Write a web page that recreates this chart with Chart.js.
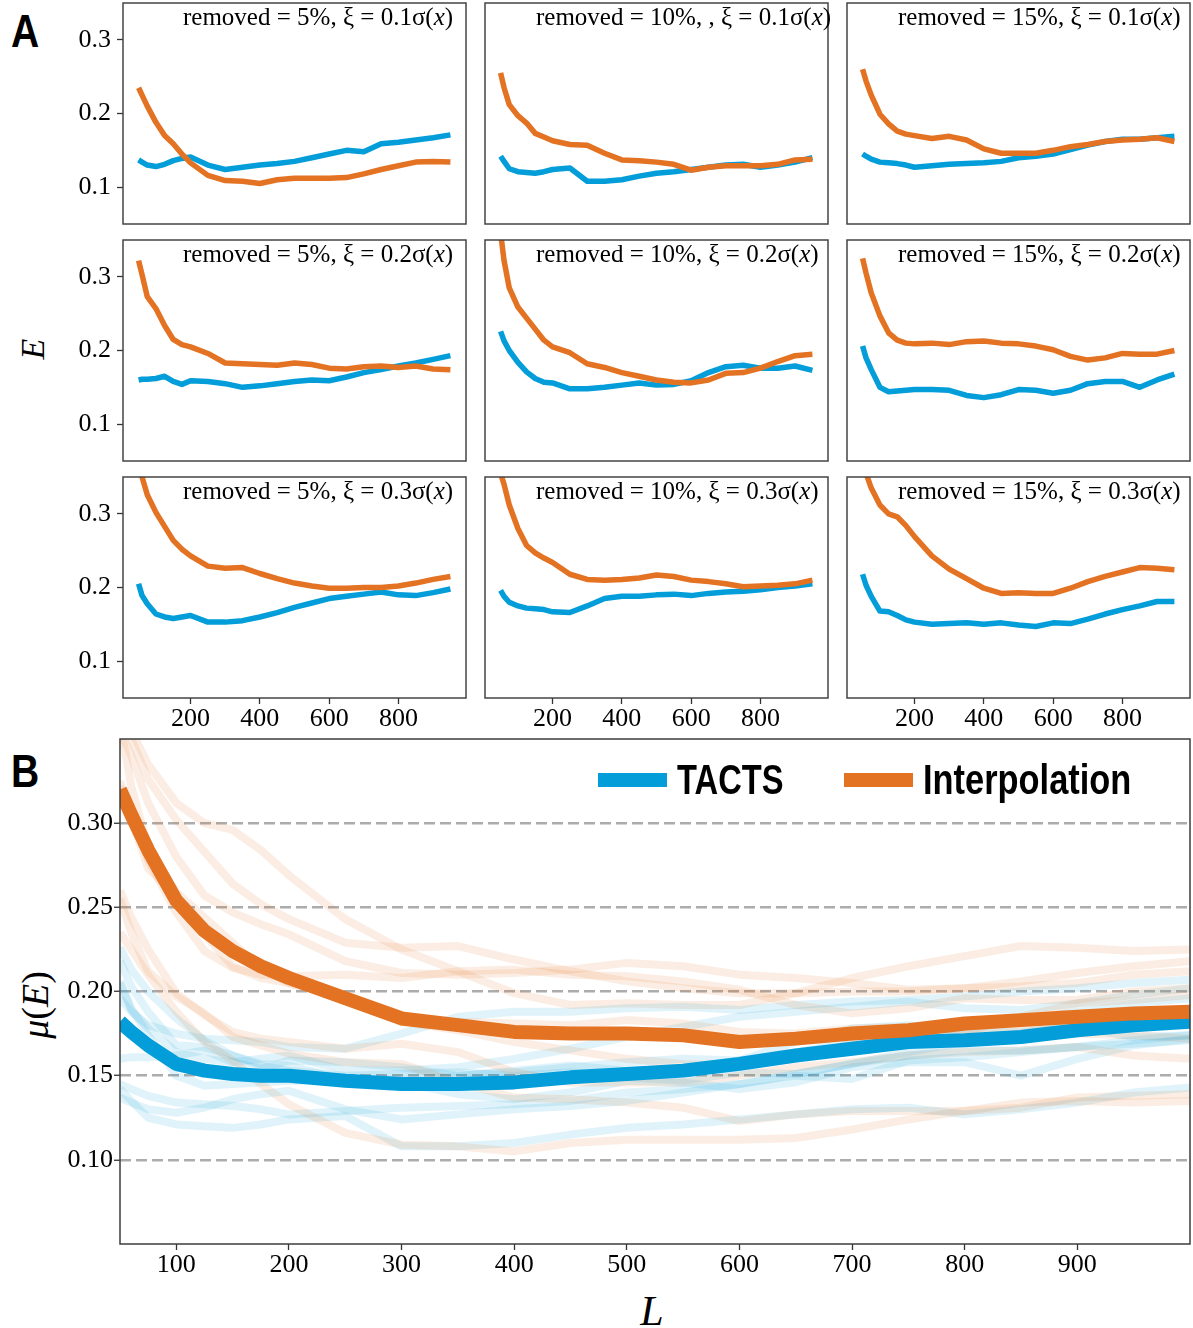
<!DOCTYPE html>
<html>
<head>
<meta charset="utf-8">
<script src="https://cdn.jsdelivr.net/npm/chart.js@4.4.1/dist/chart.umd.min.js"></script>
<style>
  html, body { margin: 0; padding: 0; background: #fff; }
  body { width: 1193px; height: 1328px; position: relative; overflow: hidden; }
  canvas { position: absolute; }
  .lbl { position: absolute; white-space: nowrap; color: #000; line-height: 1; }
  .tag { font-family: 'Liberation Sans', Arial, sans-serif; font-weight: bold; font-size: 46px; transform: scaleX(0.85); transform-origin: left top; }
  .axis { font-family: 'Liberation Serif', 'Times New Roman', serif; transform: translate(-50%, -50%) rotate(-90deg); }
  .axis i, .xname i { font-style: italic; }
  .xname { font-family: 'Liberation Serif', 'Times New Roman', serif; font-size: 42px; transform: translate(-50%, -50%); }
</style>
</head>
<body>
<div class="lbl tag" style="left:11px; top:8px;">A</div>
<div class="lbl tag" style="left:11px; top:748px;">B</div>
<div class="lbl axis" style="left:33px; top:349px; font-size:34px;"><i>E</i></div>
<div class="lbl axis" style="left:35px; top:1005px; font-size:38px;"><i>μ</i>(<i>E</i>)</div>
<div class="lbl xname" style="left:652px; top:1311px;"><i>L</i></div>

<canvas id="panel0"></canvas><canvas id="panel1"></canvas><canvas id="panel2"></canvas>
<canvas id="panel3"></canvas><canvas id="panel4"></canvas><canvas id="panel5"></canvas>
<canvas id="panel6"></canvas><canvas id="panel7"></canvas><canvas id="panel8"></canvas>
<canvas id="summary"></canvas>

<script>
// sequence length L shared by every curve
var lValues = [50, 60, 75, 100, 125, 150, 175, 200, 250, 300, 350, 400, 450, 500, 550, 600, 650, 700, 750, 800, 850, 900, 950, 1000];

// panel A: TACTS (blue) and interpolation (orange) error per setting
var tacts5pct01 = [0.137, 0.134, 0.130, 0.128, 0.131, 0.136, 0.139, 0.141, 0.130, 0.124, 0.127, 0.130, 0.132, 0.135, 0.140, 0.145, 0.150, 0.148, 0.159, 0.161, 0.164, 0.167, 0.171, 0.174];
var interp5pct01 = [0.235, 0.225, 0.210, 0.188, 0.170, 0.159, 0.145, 0.133, 0.116, 0.109, 0.108, 0.105, 0.110, 0.112, 0.112, 0.112, 0.113, 0.118, 0.124, 0.129, 0.134, 0.135, 0.134, 0.135];
var tacts10pct01 = [0.142, 0.135, 0.125, 0.121, 0.120, 0.119, 0.121, 0.124, 0.126, 0.108, 0.108, 0.110, 0.115, 0.119, 0.121, 0.124, 0.127, 0.130, 0.131, 0.127, 0.130, 0.134, 0.140, 0.143];
var interp10pct01 = [0.255, 0.235, 0.212, 0.197, 0.187, 0.173, 0.168, 0.163, 0.158, 0.157, 0.146, 0.137, 0.136, 0.134, 0.131, 0.123, 0.127, 0.129, 0.129, 0.129, 0.131, 0.137, 0.138, 0.139];
var tacts15pct01 = [0.145, 0.142, 0.138, 0.134, 0.133, 0.132, 0.130, 0.127, 0.129, 0.131, 0.132, 0.133, 0.135, 0.140, 0.142, 0.145, 0.151, 0.157, 0.162, 0.165, 0.165, 0.167, 0.169, 0.171];
var interp15pct01 = [0.260, 0.244, 0.225, 0.199, 0.186, 0.176, 0.172, 0.170, 0.166, 0.169, 0.164, 0.152, 0.146, 0.146, 0.146, 0.150, 0.155, 0.158, 0.162, 0.164, 0.165, 0.167, 0.162, 0.160];

var tacts5pct02 = [0.160, 0.161, 0.161, 0.162, 0.165, 0.158, 0.154, 0.159, 0.158, 0.155, 0.150, 0.152, 0.155, 0.158, 0.160, 0.159, 0.164, 0.170, 0.174, 0.179, 0.183, 0.188, 0.193, 0.196];
var interp5pct02 = [0.322, 0.303, 0.273, 0.257, 0.234, 0.215, 0.208, 0.205, 0.196, 0.183, 0.182, 0.181, 0.180, 0.183, 0.181, 0.176, 0.175, 0.178, 0.179, 0.177, 0.179, 0.175, 0.174, 0.172];
var tacts10pct02 = [0.226, 0.213, 0.200, 0.184, 0.171, 0.162, 0.157, 0.156, 0.148, 0.148, 0.150, 0.153, 0.156, 0.153, 0.154, 0.159, 0.170, 0.178, 0.180, 0.176, 0.176, 0.179, 0.173, 0.174];
var interp10pct02 = [0.360, 0.322, 0.285, 0.259, 0.244, 0.229, 0.214, 0.205, 0.197, 0.182, 0.177, 0.170, 0.165, 0.160, 0.157, 0.156, 0.160, 0.169, 0.170, 0.176, 0.185, 0.193, 0.195, 0.198];
var tacts15pct02 = [0.206, 0.190, 0.174, 0.150, 0.144, 0.145, 0.146, 0.147, 0.147, 0.146, 0.139, 0.136, 0.140, 0.147, 0.146, 0.142, 0.146, 0.155, 0.158, 0.158, 0.150, 0.160, 0.168, 0.172];
var interp15pct02 = [0.325, 0.305, 0.278, 0.247, 0.224, 0.214, 0.210, 0.209, 0.210, 0.208, 0.212, 0.213, 0.210, 0.209, 0.206, 0.201, 0.192, 0.187, 0.190, 0.196, 0.195, 0.195, 0.200, 0.202];

var tacts5pct03 = [0.205, 0.189, 0.178, 0.164, 0.160, 0.158, 0.160, 0.162, 0.153, 0.153, 0.155, 0.160, 0.166, 0.173, 0.179, 0.185, 0.188, 0.191, 0.194, 0.190, 0.189, 0.193, 0.198, 0.202];
var interp5pct03 = [0.375, 0.350, 0.326, 0.302, 0.283, 0.264, 0.252, 0.243, 0.229, 0.226, 0.227, 0.219, 0.212, 0.206, 0.202, 0.199, 0.199, 0.200, 0.200, 0.202, 0.206, 0.211, 0.215, 0.218];
var tacts10pct03 = [0.196, 0.188, 0.180, 0.175, 0.172, 0.171, 0.170, 0.167, 0.166, 0.175, 0.185, 0.188, 0.188, 0.190, 0.191, 0.189, 0.192, 0.194, 0.195, 0.197, 0.200, 0.202, 0.205, 0.207];
var interp10pct03 = [0.355, 0.340, 0.312, 0.280, 0.257, 0.247, 0.240, 0.234, 0.218, 0.211, 0.210, 0.211, 0.213, 0.217, 0.215, 0.210, 0.208, 0.205, 0.201, 0.202, 0.203, 0.205, 0.210, 0.212];
var tacts15pct03 = [0.218, 0.203, 0.188, 0.168, 0.167, 0.162, 0.156, 0.153, 0.150, 0.151, 0.152, 0.150, 0.152, 0.149, 0.147, 0.152, 0.151, 0.157, 0.164, 0.170, 0.175, 0.181, 0.181, 0.182];
var interp15pct03 = [0.375, 0.355, 0.335, 0.312, 0.300, 0.296, 0.284, 0.269, 0.243, 0.225, 0.212, 0.199, 0.192, 0.193, 0.192, 0.192, 0.199, 0.208, 0.215, 0.221, 0.227, 0.226, 0.224, 0.225];

// panel B: mean error over all settings
var meanTacts = [0.182, 0.176, 0.168, 0.157, 0.153, 0.151, 0.150, 0.150, 0.147, 0.145, 0.145, 0.146, 0.149, 0.151, 0.153, 0.157, 0.162, 0.166, 0.170, 0.171, 0.173, 0.177, 0.180, 0.182];
var meanInterp = [0.320, 0.305, 0.284, 0.254, 0.236, 0.224, 0.215, 0.208, 0.196, 0.184, 0.180, 0.176, 0.175, 0.175, 0.174, 0.170, 0.172, 0.175, 0.177, 0.181, 0.183, 0.185, 0.187, 0.188];

var panelTitles = [
  'removed = 5%, ξ = 0.1σ(x)', 'removed = 10%, , ξ = 0.1σ(x)', 'removed = 15%, ξ = 0.1σ(x)',
  'removed = 5%, ξ = 0.2σ(x)', 'removed = 10%, ξ = 0.2σ(x)', 'removed = 15%, ξ = 0.2σ(x)',
  'removed = 5%, ξ = 0.3σ(x)', 'removed = 10%, ξ = 0.3σ(x)', 'removed = 15%, ξ = 0.3σ(x)'
];
var legendLabels = ['TACTS', 'Interpolation'];
var panelXTicks = [200, 400, 600, 800];
var panelYTicks = [0.1, 0.2, 0.3];
var summaryXTicks = [100, 200, 300, 400, 500, 600, 700, 800, 900];
var summaryYTicks = [0.10, 0.15, 0.20, 0.25, 0.30];

var tactsSeries = [tacts5pct01, tacts10pct01, tacts15pct01, tacts5pct02, tacts10pct02, tacts15pct02, tacts5pct03, tacts10pct03, tacts15pct03];
var interpSeries = [interp5pct01, interp10pct01, interp15pct01, interp5pct02, interp10pct02, interp15pct02, interp5pct03, interp10pct03, interp15pct03];

var BLUE = '#039dd9';
var ORANGE = '#e37223';
var SERIF = "'Liberation Serif', 'Times New Roman', serif";

function toPoints(values, maxL) {
  var pts = [];
  for (var i = 0; i < lValues.length; i++) {
    if (lValues[i] <= maxL) pts.push({ x: lValues[i], y: values[i] });
  }
  return pts;
}

function fixedTicks(list) {
  return function (scale) {
    scale.ticks = list.map(function (v) { return { value: v }; });
  };
}

// keep the plot box where it is: drop the label overhang padding chart.js adds
function fixedSize(prop, size) {
  return function (scale) {
    scale[prop] = size;
    scale.paddingTop = 0; scale.paddingBottom = 0;
    scale.paddingLeft = 0; scale.paddingRight = 0;
  };
}

var framePlugin = {
  id: 'frame',
  afterDraw: function (chart, args, opts) {
    var a = chart.chartArea, ctx = chart.ctx;
    ctx.save();
    ctx.strokeStyle = opts.color || '#3c3c3c';
    ctx.lineWidth = opts.width || 1.5;
    ctx.strokeRect(a.left, a.top, a.right - a.left, a.bottom - a.top);
    ctx.restore();
  }
};

var panelTitlePlugin = {
  id: 'panelTitle',
  afterDraw: function (chart, args, opts) {
    if (!opts.text) return;
    var ctx = chart.ctx, a = chart.chartArea;
    var k = opts.text.indexOf('(x)');
    var head = opts.text.slice(0, k + 1);
    var x = a.left + opts.offset, y = a.top + 22;
    ctx.save();
    ctx.fillStyle = '#000';
    ctx.textBaseline = 'alphabetic';
    ctx.textAlign = 'left';
    ctx.font = '25px ' + SERIF;
    ctx.fillText(head, x, y);
    x += ctx.measureText(head).width;
    ctx.font = 'italic 25px ' + SERIF;
    ctx.fillText('x', x, y);
    x += ctx.measureText('x').width;
    ctx.font = '25px ' + SERIF;
    ctx.fillText(')', x, y);
    ctx.restore();
  }
};

var innerLegendPlugin = {
  id: 'innerLegend',
  afterDraw: function (chart, args, opts) {
    if (!opts.items) return;
    var ctx = chart.ctx, a = chart.chartArea;
    ctx.save();
    opts.items.forEach(function (item) {
      var bx = a.left + item.at;
      ctx.fillStyle = item.color;
      ctx.fillRect(bx, a.top + 34, 69, 14);
      ctx.save();
      ctx.translate(bx + 79, a.top + 55);
      ctx.scale(item.squeeze, 1);
      ctx.fillStyle = '#000';
      ctx.font = 'bold 43px ' + "'Liberation Sans', Arial, sans-serif";
      ctx.textBaseline = 'alphabetic';
      ctx.fillText(item.text, 0, 0);
      ctx.restore();
    });
    ctx.restore();
  }
};

Chart.register(framePlugin, panelTitlePlugin, innerLegendPlugin);
Chart.defaults.font.family = SERIF;
Chart.defaults.color = '#000';

function lineSet(label, values, color, width, order, maxL) {
  return {
    label: label,
    data: toPoints(values, maxL),
    borderColor: color,
    backgroundColor: color,
    borderWidth: width,
    borderJoinStyle: 'round',
    pointRadius: 0,
    tension: 0,
    fill: false,
    clip: 0,
    order: order
  };
}

function initPanel(idx) {
  var row = Math.floor(idx / 3), col = idx % 3;
  var plotLeft = [123, 485, 847][col], plotTop = [3, 240, 477][row];
  var canvas = document.getElementById('panel' + idx);
  canvas.width = 421; canvas.height = 266;
  canvas.style.left = (plotLeft - 75) + 'px';
  canvas.style.top = (plotTop - 3) + 'px';

  new Chart(canvas, {
    type: 'line',
    data: {
      datasets: [
        lineSet(legendLabels[1], interpSeries[idx], ORANGE, 5.5, 0, 950),
        lineSet(legendLabels[0], tactsSeries[idx], BLUE, 5.5, 1, 950)
      ]
    },
    options: {
      responsive: false,
      animation: false,
      devicePixelRatio: 1,
      events: [],
      layout: { padding: { top: 3, right: 3, left: 0, bottom: 0 } },
      plugins: {
        legend: { display: false },
        tooltip: { enabled: false },
        frame: { color: '#444', width: 1.5 },
        panelTitle: { text: panelTitles[idx], offset: col === 0 ? 60 : 51 }
      },
      scales: {
        x: {
          type: 'linear', min: 5, max: 995,
          afterBuildTicks: fixedTicks(panelXTicks),
          afterFit: fixedSize('height', 42),
          border: { display: false },
          grid: { drawOnChartArea: false, drawTicks: row === 2, tickLength: 6, tickColor: '#333', tickWidth: 1.3 },
          ticks: { display: row === 2, autoSkip: false, maxRotation: 0, padding: 0, font: { size: 26 }, color: '#000' }
        },
        y: {
          min: 0.05, max: 0.35,
          afterBuildTicks: fixedTicks(panelYTicks),
          afterFit: fixedSize('width', 75),
          border: { display: false },
          grid: { drawOnChartArea: false, drawTicks: col === 0, tickLength: 6, tickColor: '#333', tickWidth: 1.3 },
          ticks: {
            display: col === 0, padding: 6, font: { size: 26 }, color: '#000',
            callback: function (v) { return Number(v).toFixed(1); }
          }
        }
      }
    }
  });
}

function initSummary() {
  var canvas = document.getElementById('summary');
  canvas.width = 1153; canvas.height = 553;
  canvas.style.left = '40px';
  canvas.style.top = '736px';

  var sets = [
    lineSet(legendLabels[1], meanInterp, ORANGE, 14, 0, 1000),
    lineSet(legendLabels[0], meanTacts, BLUE, 14, 1, 1000)
  ];
  for (var i = 0; i < 9; i++) {
    sets.push(lineSet('', tactsSeries[i], 'rgba(3, 157, 217, 0.12)', 8, 10, 1000));
    sets.push(lineSet('', interpSeries[i], 'rgba(227, 114, 35, 0.13)', 8, 10, 1000));
  }

  new Chart(canvas, {
    type: 'line',
    data: { datasets: sets },
    options: {
      responsive: false,
      animation: false,
      devicePixelRatio: 1,
      events: [],
      layout: { padding: { top: 3, right: 3, left: 0, bottom: 0 } },
      plugins: {
        legend: { display: false },
        tooltip: { enabled: false },
        frame: { color: '#3c3c3c', width: 1.5 },
        innerLegend: {
          items: [
            { text: legendLabels[0], color: BLUE, at: 478, squeeze: 0.76 },
            { text: legendLabels[1], color: ORANGE, at: 724, squeeze: 0.8 }
          ]
        }
      },
      scales: {
        x: {
          type: 'linear', min: 50, max: 1000,
          afterBuildTicks: fixedTicks(summaryXTicks),
          afterFit: fixedSize('height', 45),
          border: { display: false },
          grid: { drawOnChartArea: false, tickLength: 6, tickColor: '#333', tickWidth: 1.3 },
          ticks: { autoSkip: false, maxRotation: 0, padding: 0, font: { size: 26 }, color: '#000' }
        },
        y: {
          min: 0.05, max: 0.35,
          afterBuildTicks: fixedTicks(summaryYTicks),
          afterFit: fixedSize('width', 80),
          border: { display: false, dash: [11, 5] },
          grid: { color: '#acacac', lineWidth: 2.5, tickLength: 6, tickColor: '#333', tickWidth: 1.3, tickBorderDash: [] },
          ticks: {
            padding: 1, font: { size: 26 }, color: '#000',
            callback: function (v) { return Number(v).toFixed(2); }
          }
        }
      }
    }
  });
}

for (var p = 0; p < 9; p++) initPanel(p);
initSummary();
</script>
</body>
</html>
